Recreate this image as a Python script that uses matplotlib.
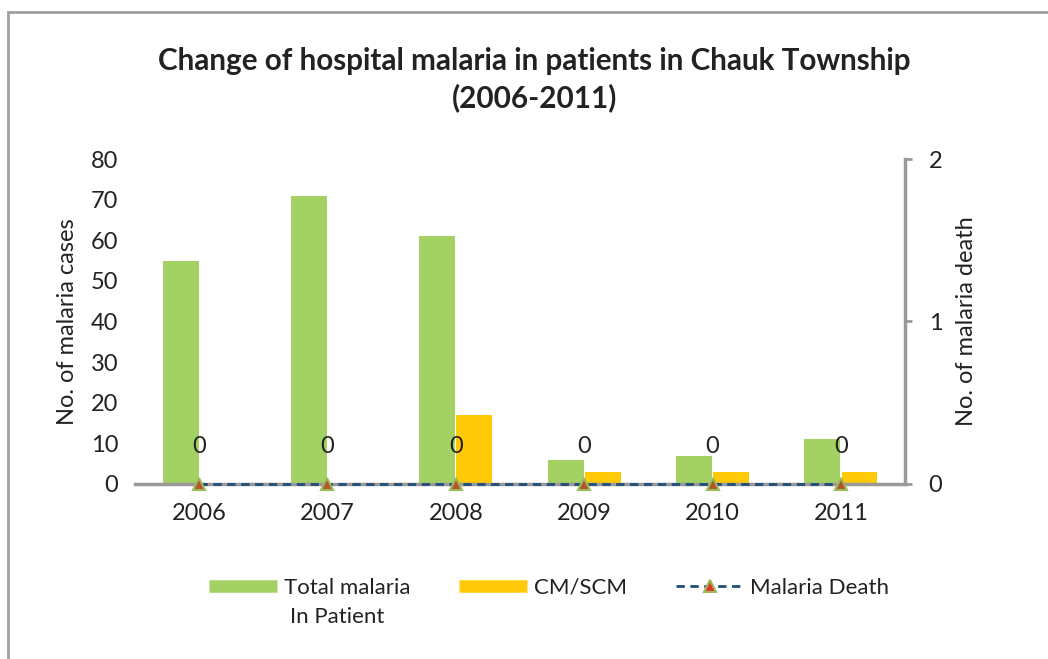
import numpy as np
import matplotlib.pyplot as plt
from matplotlib.lines import Line2D
from matplotlib.patches import Rectangle

plt.rcParams['font.family'] = ['Lato', 'DejaVu Sans']

years = ['2006', '2007', '2008', '2009', '2010', '2011']
total_in_patient = [55, 71, 61, 6, 7, 11]
cm_scm = [0, 0, 17, 3, 3, 3]
deaths = [0, 0, 0, 0, 0, 0]

green = '#A3D164'
yellow = '#FFC907'
blue = '#1F4E79'
grey = '#999999'

fig = plt.figure(figsize=(10.48, 6.59), dpi=100)
ax = fig.add_axes([0.1288, 0.2656, 0.7348, 0.4931])
x = np.arange(len(years))
w = 0.28

ax.bar(x - 0.145, total_in_patient, w, color=green, zorder=2)
ax.bar(x + 0.145, cm_scm, w, color=yellow, zorder=2)
ax.set_xlim(-0.5, len(years) - 0.5)
ax.set_ylim(0, 80)
ax.set_yticks(range(0, 81, 10))
ax.set_xticks(x)
ax.set_xticklabels(years)
ax.tick_params(axis='x', length=0, labelsize=17, pad=14, colors='#222222')
ax.tick_params(axis='y', length=0, labelsize=17, pad=12, colors='#222222')
for s in ['top', 'right', 'left']:
    ax.spines[s].set_visible(False)
ax.spines['bottom'].set_color(grey)
ax.spines['bottom'].set_linewidth(2.5)
ax.set_ylabel('No. of malaria cases', fontsize=17, color='#222222', labelpad=9)

ax2 = ax.twinx()
ax2.set_ylim(0, 2)
ax2.set_yticks([0, 1, 2])
for s in ['top', 'left', 'bottom']:
    ax2.spines[s].set_visible(False)
ax2.spines['right'].set_color(grey)
ax2.spines['right'].set_linewidth(2.5)
ax2.tick_params(axis='y', direction='out', length=5, width=2, color=grey,
                labelsize=17, pad=12, labelcolor='#222222')
ax2.plot(x, deaths, linestyle=(0, (3, 2)), color=blue, lw=2,
         marker='^', markersize=8, markerfacecolor='#B5532E',
         markeredgecolor='#9BBB59', markeredgewidth=1.5, zorder=5, clip_on=False)
for xi, d in zip(x, deaths):
    ax2.annotate(str(d), (xi, d), xytext=(0, 27), textcoords='offset points',
                 ha='center', va='center', fontsize=17, color='#222222')
ax2.set_ylabel('No. of malaria death', fontsize=17, color='#222222', labelpad=10)

fig.text(0.51, 0.907, 'Change of hospital malaria in patients in Chauk Township',
         ha='center', va='center', fontsize=21.3, fontweight='bold', color='#222222')
fig.text(0.51, 0.852, '(2006-2011)', ha='center', va='center',
         fontsize=21.3, fontweight='bold', color='#222222')

handles = [Line2D([], [], color=green, lw=9, solid_capstyle='butt'),
           Line2D([], [], color=yellow, lw=9, solid_capstyle='butt'),
           Line2D([], [], color=blue, lw=2, linestyle=(0, (3, 2)), marker='^',
                  markersize=9, markerfacecolor='#E8352A', markeredgecolor='#9BBB59',
                  markeredgewidth=1.5)]
labels = ['Total malaria', 'CM/SCM', 'Malaria Death']
leg = fig.legend(handles, labels, loc='center', bbox_to_anchor=(0.524, 1 - 588 / 659),
                 ncol=3, frameon=False, fontsize=16, handlelength=3.06,
                 columnspacing=2.2, handletextpad=0.3)
for t in leg.get_texts():
    t.set_color('#222222')
fig.text(290 / 1048, 1 - 617 / 659, 'In Patient', ha='left', va='center',
         fontsize=16, color='#222222')

fig.patches.append(Rectangle((8 / 1048, -0.1), 1.2, 1 - 12 / 659 + 0.1,
                             transform=fig.transFigure, fill=False,
                             edgecolor='#A0A0A0', lw=2))

fig.savefig('out.png', dpi=100)
